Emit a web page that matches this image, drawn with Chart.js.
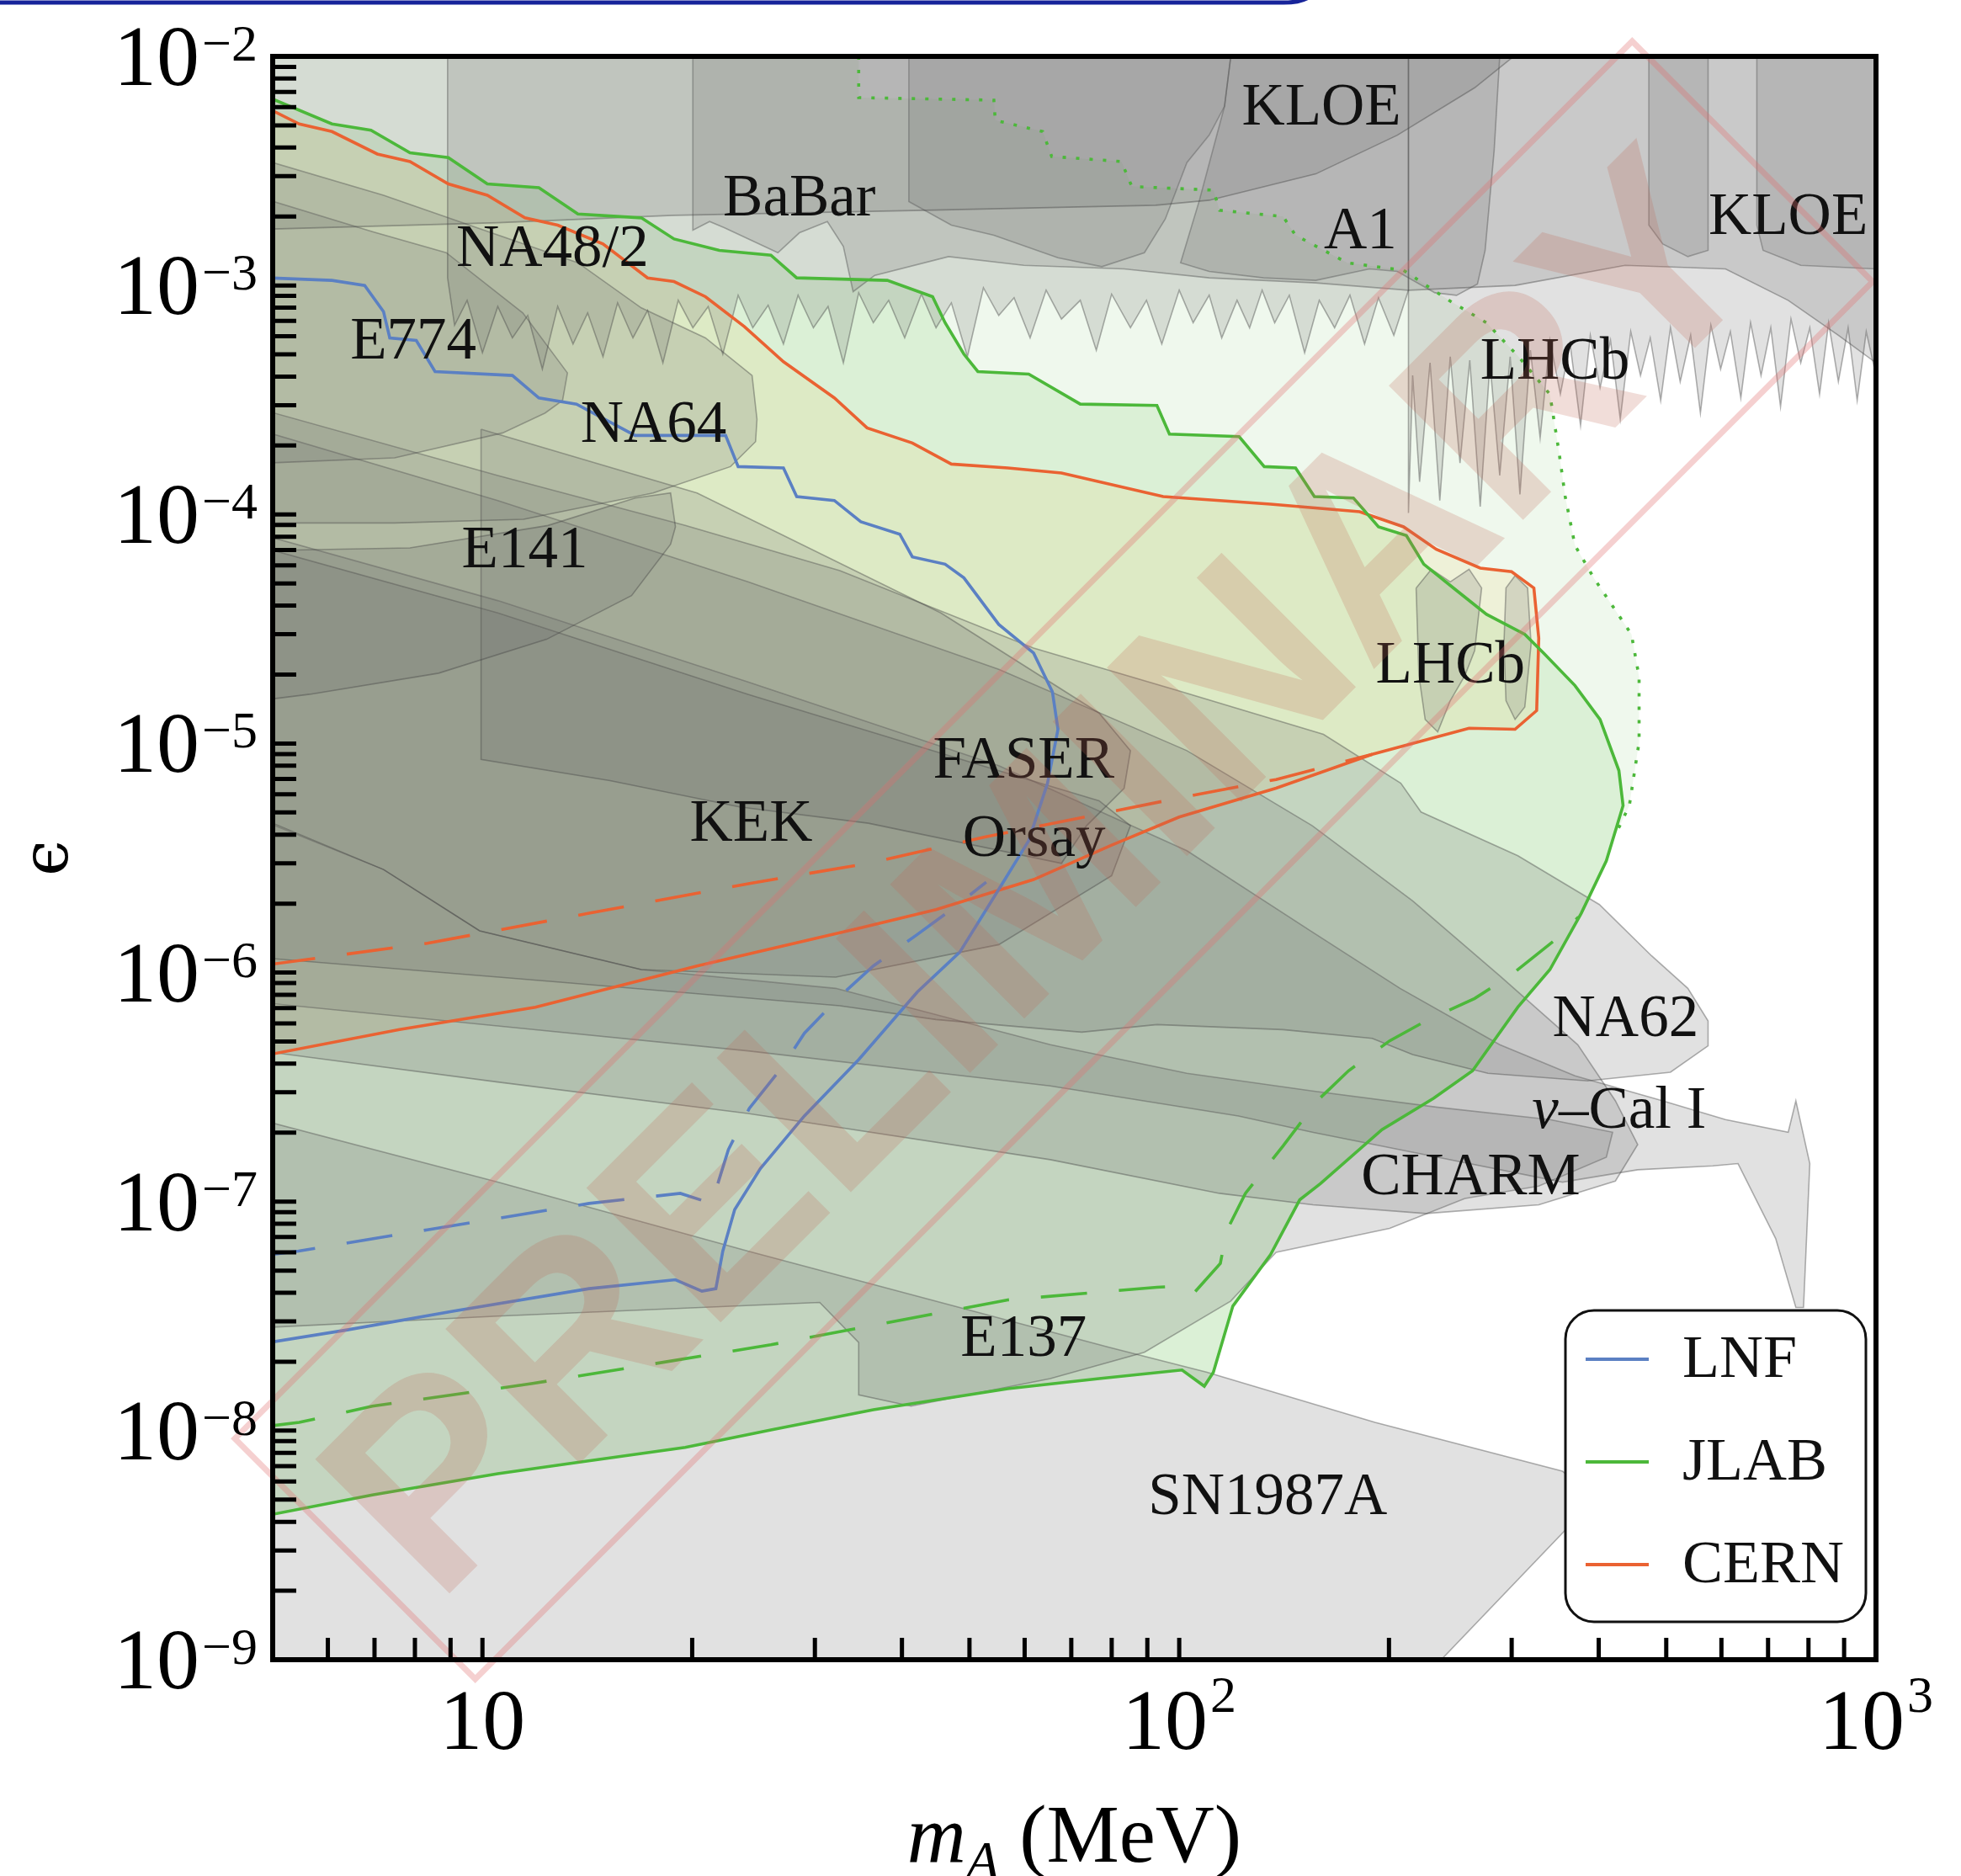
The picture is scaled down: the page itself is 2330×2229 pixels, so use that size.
<!DOCTYPE html>
<html>
<head>
<meta charset="utf-8">
<title>Dark photon reach</title>
<script src="https://cdn.jsdelivr.net/npm/chart.js@4.4.1/dist/chart.umd.min.js"></script>
<style>
  html, body { margin: 0; padding: 0; background: #fff; }
  #wrap { position: relative; width: 2330px; height: 2229px; }
</style>
</head>
<body>
<div id="wrap"><canvas id="plot"></canvas></div>
<script>

// projected reach (coloured curves)
const lnfSolid = [[0.694,-2.967],[0.784,-2.978],[0.831,-3.000],[0.858,-3.114],[0.867,-3.229],[0.905,-3.240],[0.932,-3.376],[1.043,-3.393],[1.081,-3.491],[1.135,-3.518],[1.219,-3.655],[1.349,-3.655],[1.367,-3.791],[1.432,-3.797],[1.451,-3.922],[1.505,-3.939],[1.543,-4.032],[1.599,-4.086],[1.617,-4.185],[1.664,-4.217],[1.691,-4.277],[1.741,-4.480],[1.791,-4.605],[1.818,-4.774],[1.826,-4.938],[1.811,-5.173],[1.784,-5.424],[1.741,-5.637],[1.685,-5.911],[1.624,-6.085],[1.540,-6.380],[1.462,-6.626],[1.399,-6.855],[1.362,-7.035],[1.345,-7.216],[1.335,-7.380],[1.315,-7.391],[1.277,-7.341],[1.153,-7.380],[0.959,-7.478],[0.806,-7.560],[0.694,-7.615]];
const lnfDashed = [[0.694,-7.232],[0.736,-7.216],[0.921,-7.123],[1.153,-7.008],[1.284,-6.964],[1.329,-7.008],[1.353,-6.773],[1.383,-6.593],[1.430,-6.413],[1.462,-6.265],[1.514,-6.101],[1.561,-5.971],[1.624,-5.834],[1.673,-5.725],[1.723,-5.605]];

const jlabSolid = [[0.694,-2.180],[0.784,-2.295],[0.840,-2.322],[0.896,-2.421],[0.951,-2.442],[1.007,-2.557],[1.081,-2.573],[1.137,-2.688],[1.228,-2.705],[1.275,-2.797],[1.340,-2.847],[1.414,-2.868],[1.451,-2.967],[1.581,-2.978],[1.646,-3.049],[1.664,-3.163],[1.691,-3.300],[1.711,-3.376],[1.784,-3.387],[1.858,-3.518],[1.968,-3.524],[1.986,-3.649],[2.086,-3.660],[2.122,-3.791],[2.167,-3.797],[2.194,-3.922],[2.250,-3.928],[2.286,-4.054],[2.326,-4.092],[2.351,-4.217],[2.396,-4.327],[2.441,-4.436],[2.496,-4.523],[2.523,-4.605],[2.568,-4.747],[2.604,-4.895],[2.631,-5.118],[2.637,-5.271],[2.613,-5.512],[2.577,-5.741],[2.532,-5.987],[2.486,-6.151],[2.421,-6.429],[2.365,-6.549],[2.291,-6.686],[2.203,-6.921],[2.173,-6.992],[2.131,-7.232],[2.077,-7.456],[2.049,-7.745],[2.036,-7.806],[2.004,-7.735],[1.885,-7.773],[1.754,-7.817],[1.561,-7.909],[1.414,-7.997],[1.291,-8.073],[1.135,-8.139],[1.022,-8.188],[0.842,-8.281],[0.694,-8.368]];
const jlabDashed = [[0.694,-7.980],[0.737,-7.964],[0.842,-7.893],[1.070,-7.795],[1.414,-7.625],[1.754,-7.429],[1.968,-7.374],[2.002,-7.369],[2.022,-7.396],[2.059,-7.270],[2.068,-7.128],[2.095,-6.964],[2.149,-6.757],[2.198,-6.560],[2.243,-6.429],[2.302,-6.298],[2.354,-6.211],[2.424,-6.113],[2.477,-6.009],[2.540,-5.856],[2.573,-5.757]];
const jlabDotted = [[1.540,-2.000],[1.540,-2.180],[1.734,-2.191],[1.736,-2.279],[1.804,-2.328],[1.817,-2.437],[1.917,-2.459],[1.932,-2.568],[2.049,-2.584],[2.058,-2.672],[2.149,-2.699],[2.167,-2.781],[2.241,-2.901],[2.322,-2.934],[2.387,-3.065],[2.441,-3.163],[2.487,-3.311],[2.532,-3.475],[2.545,-3.726],[2.554,-3.922],[2.568,-4.135],[2.595,-4.277],[2.649,-4.523],[2.660,-4.709],[2.660,-4.993],[2.646,-5.271],[2.628,-5.386]];

const cernSolid = [[0.694,-2.229],[0.737,-2.295],[0.784,-2.328],[0.849,-2.426],[0.896,-2.459],[0.951,-2.557],[1.007,-2.606],[1.061,-2.705],[1.108,-2.737],[1.173,-2.819],[1.237,-2.967],[1.275,-2.983],[1.320,-3.049],[1.376,-3.180],[1.432,-3.333],[1.505,-3.491],[1.552,-3.622],[1.617,-3.688],[1.673,-3.780],[1.754,-3.797],[1.831,-3.819],[1.977,-3.922],[2.131,-3.955],[2.259,-3.988],[2.322,-4.054],[2.369,-4.152],[2.432,-4.234],[2.477,-4.250],[2.509,-4.321],[2.516,-4.540],[2.513,-4.856],[2.482,-4.938],[2.416,-4.933],[2.277,-5.047],[2.139,-5.195],[2.000,-5.321],[1.901,-5.446],[1.791,-5.594],[1.651,-5.725],[1.540,-5.807],[1.308,-5.971],[1.076,-6.151],[0.881,-6.249],[0.694,-6.358]];
const cernDashed = [[0.694,-5.965],[0.921,-5.872],[1.153,-5.741],[1.385,-5.610],[1.554,-5.523],[1.721,-5.408],[1.998,-5.239],[2.139,-5.157],[2.277,-5.047]];

// existing bounds (grey regions)
const topBand = [[0.694,-2.000],[2.480,-2.000],[2.424,-2.137],[2.313,-2.344],[2.196,-2.513],[2.043,-2.628],[1.966,-2.650],[1.633,-2.672],[1.273,-2.694],[1.022,-2.726],[0.694,-2.754]];
const na48 = [[0.950,-2.000],[2.329,-2.000],[2.329,-3.021],[2.308,-3.218],[2.286,-3.054],[2.266,-3.256],[2.245,-3.043],[2.223,-3.185],[2.201,-3.065],[2.180,-3.294],[2.158,-3.043],[2.137,-3.163],[2.119,-3.021],[2.101,-3.185],[2.083,-3.065],[2.061,-3.229],[2.043,-3.043],[2.020,-3.163],[2.000,-3.021],[1.975,-3.256],[1.953,-3.065],[1.930,-3.185],[1.903,-3.038],[1.881,-3.283],[1.858,-3.065],[1.831,-3.147],[1.809,-3.021],[1.786,-3.229],[1.763,-3.054],[1.741,-3.131],[1.719,-3.010],[1.696,-3.311],[1.673,-3.076],[1.651,-3.185],[1.630,-3.038],[1.606,-3.229],[1.583,-3.065],[1.561,-3.163],[1.540,-3.032],[1.518,-3.338],[1.496,-3.092],[1.475,-3.185],[1.453,-3.043],[1.432,-3.256],[1.410,-3.087],[1.388,-3.185],[1.367,-3.043],[1.345,-3.300],[1.324,-3.092],[1.302,-3.185],[1.281,-3.065],[1.259,-3.338],[1.237,-3.109],[1.216,-3.229],[1.194,-3.076],[1.173,-3.311],[1.151,-3.120],[1.130,-3.256],[1.108,-3.092],[1.086,-3.365],[1.065,-3.131],[1.043,-3.229],[1.022,-3.092],[1.000,-3.294],[0.978,-3.065],[0.960,-3.174],[0.950,-2.967]];
const babar = [[1.302,-2.000],[3.000,-2.000],[3.000,-3.338],[2.946,-3.218],[2.874,-3.065],[2.784,-2.928],[2.640,-2.912],[2.482,-3.000],[2.329,-3.021],[2.196,-2.989],[2.043,-2.967],[1.921,-2.928],[1.777,-2.912],[1.669,-2.874],[1.563,-2.956],[1.532,-3.027],[1.518,-2.830],[1.495,-2.721],[1.455,-2.770],[1.424,-2.857],[1.347,-2.748],[1.326,-2.721],[1.302,-2.759]];
const kloeLow = [[1.612,-2.000],[2.074,-2.000],[2.065,-2.218],[2.043,-2.344],[2.011,-2.464],[1.980,-2.710],[1.950,-2.857],[1.889,-2.918],[1.826,-2.879],[1.734,-2.781],[1.673,-2.737],[1.612,-2.634]];
const a1 = [[2.074,-2.000],[2.460,-2.000],[2.452,-2.410],[2.439,-2.847],[2.428,-2.994],[2.398,-3.043],[2.367,-3.032],[2.313,-2.939],[2.273,-2.928],[2.196,-2.978],[2.121,-2.967],[2.043,-2.939],[2.002,-2.901],[2.029,-2.628],[2.065,-2.218]];
const lhcbTop = [[2.329,-2.000],[3.000,-2.000],[3.000,-3.393],[2.986,-3.202],[2.973,-3.502],[2.960,-3.185],[2.946,-3.420],[2.932,-3.163],[2.919,-3.475],[2.905,-3.185],[2.892,-3.338],[2.878,-3.147],[2.863,-3.529],[2.849,-3.185],[2.835,-3.393],[2.820,-3.163],[2.806,-3.491],[2.791,-3.202],[2.777,-3.365],[2.763,-3.174],[2.748,-3.557],[2.734,-3.218],[2.719,-3.420],[2.705,-3.185],[2.691,-3.502],[2.676,-3.229],[2.662,-3.393],[2.648,-3.202],[2.633,-3.584],[2.619,-3.240],[2.604,-3.447],[2.590,-3.218],[2.576,-3.611],[2.561,-3.256],[2.547,-3.475],[2.532,-3.240],[2.518,-3.666],[2.504,-3.283],[2.489,-3.912],[2.475,-3.311],[2.460,-3.830],[2.446,-3.338],[2.432,-3.966],[2.417,-3.327],[2.403,-3.775],[2.389,-3.311],[2.374,-3.939],[2.360,-3.338],[2.345,-3.857],[2.335,-3.393],[2.329,-3.993]];
const kloeHighA = [[2.674,-2.000],[2.759,-2.000],[2.759,-2.847],[2.730,-2.874],[2.694,-2.819],[2.674,-2.737]];
const kloeHighB = [[2.829,-2.000],[3.000,-2.000],[3.000,-2.928],[2.892,-2.912],[2.838,-2.847],[2.829,-2.737]];
const lhcbMidA = [[2.340,-4.321],[2.362,-4.239],[2.389,-4.294],[2.416,-4.239],[2.434,-4.321],[2.424,-4.594],[2.410,-4.703],[2.389,-4.813],[2.371,-4.949],[2.353,-4.895],[2.344,-4.703]];
const lhcbMidB = [[2.482,-4.267],[2.500,-4.321],[2.505,-4.567],[2.496,-4.840],[2.482,-4.895],[2.469,-4.813],[2.466,-4.567],[2.469,-4.321]];
const na64 = [[0.694,-2.459],[0.858,-2.606],[1.137,-2.901],[1.228,-3.098],[1.320,-3.229],[1.387,-3.393],[1.394,-3.584],[1.392,-3.682],[1.356,-3.791],[1.245,-3.906],[1.059,-4.021],[0.874,-4.037],[0.694,-4.037]];
const e774 = [[0.694,-2.628],[0.842,-2.765],[0.948,-2.857],[1.058,-3.120],[1.122,-3.382],[1.115,-3.502],[1.090,-3.557],[1.029,-3.644],[0.874,-3.753],[0.694,-3.775]];
const e141 = [[0.694,-4.157],[0.896,-4.146],[1.094,-4.048],[1.219,-3.928],[1.270,-3.906],[1.277,-4.054],[1.270,-4.130],[1.214,-4.354],[1.092,-4.545],[0.937,-4.693],[0.752,-4.785],[0.694,-4.807]];
const faser = [[0.998,-3.628],[1.308,-3.906],[1.658,-4.430],[1.885,-4.867],[1.930,-5.031],[1.921,-5.195],[1.867,-5.359],[1.831,-5.523],[1.554,-5.348],[1.369,-5.277],[1.183,-5.162],[0.998,-5.069]];
const orsay = [[0.694,-4.152],[1.022,-4.430],[1.381,-4.785],[1.705,-5.086],[1.885,-5.250],[1.930,-5.359],[1.903,-5.577],[1.741,-5.878],[1.507,-6.020],[1.228,-5.987],[0.996,-5.818],[0.858,-5.550],[0.694,-5.342]];
const na62 = [[0.694,-3.551],[1.022,-3.830],[1.291,-4.048],[1.513,-4.245],[1.791,-4.583],[1.998,-4.769],[2.207,-4.960],[2.318,-5.173],[2.347,-5.299],[2.486,-5.490],[2.603,-5.703],[2.678,-5.927],[2.730,-6.069],[2.759,-6.211],[2.759,-6.320],[2.705,-6.435],[2.586,-6.473],[2.443,-6.440],[2.335,-6.358],[2.277,-6.287],[2.149,-6.249],[1.968,-6.227],[1.860,-6.260],[1.651,-6.205],[1.513,-6.145],[1.112,-6.042],[0.694,-5.938]];
const charm = [[0.694,-3.644],[1.022,-3.939],[1.381,-4.294],[1.741,-4.676],[2.011,-5.031],[2.191,-5.359],[2.335,-5.687],[2.460,-6.014],[2.572,-6.315],[2.626,-6.560],[2.658,-6.751],[2.626,-6.910],[2.516,-7.014],[2.354,-7.052],[2.192,-7.014],[2.058,-6.964],[1.815,-6.817],[1.381,-6.615],[1.022,-6.478],[0.694,-6.347]];
const nuCal = [[0.694,-4.097],[1.022,-4.376],[1.381,-4.731],[1.741,-5.097],[2.011,-5.468],[2.191,-5.823],[2.317,-6.069],[2.460,-6.315],[2.568,-6.451],[2.694,-6.560],[2.784,-6.642],[2.874,-6.697],[2.885,-6.560],[2.905,-6.834],[2.896,-7.462],[2.885,-7.462],[2.856,-7.161],[2.802,-6.834],[2.766,-6.844],[2.658,-6.861],[2.550,-6.915],[2.371,-6.806],[2.191,-6.697],[2.085,-6.626],[1.815,-6.495],[1.381,-6.342],[1.022,-6.233],[0.694,-6.134]];
const e137 = [[0.694,-7.549],[1.022,-7.500],[1.484,-7.440],[1.540,-7.615],[1.540,-7.844],[1.615,-7.893],[1.815,-7.773],[1.950,-7.658],[2.074,-7.434],[2.139,-7.221],[2.302,-7.117],[2.410,-6.986],[2.516,-6.932],[2.613,-6.806],[2.622,-6.697],[2.532,-6.642],[2.371,-6.588],[2.191,-6.517],[2.011,-6.440],[1.815,-6.315],[1.507,-6.069],[1.228,-5.987],[0.996,-5.818],[0.858,-5.550],[0.694,-5.348]];
const sn1987a = [[0.694,-6.653],[1.022,-6.915],[1.381,-7.216],[1.899,-7.636],[2.040,-7.745],[2.281,-7.964],[2.550,-8.177],[2.595,-8.281],[2.568,-8.390],[2.376,-9.000],[0.694,-9.000]];

// region names: [text, mA (MeV), epsilon]
const regionLabels = [
  ['KLOE', 160, 5.9e-3], ['BaBar', 28.5, 2.36e-3], ['NA48/2', 12.6, 1.42e-3], ['A1', 182, 1.7e-3],
  ['KLOE', 748, 1.97e-3], ['E774', 7.96, 5.6e-4], ['NA64', 17.6, 2.42e-4], ['LHCb', 346, 4.6e-4],
  ['E141', 11.5, 6.9e-5], ['LHCb', 245, 2.16e-5], ['FASER', 59.8, 8.3e-6], ['KEK', 24.3, 4.4e-6],
  ['Orsay', 61.9, 3.77e-6], ['NA62', 437, 6.2e-7], ['\u03bd\u2013Cal I', 428, 2.46e-7],
  ['CHARM', 262, 1.26e-7], ['E137', 59.8, 2.49e-8], ['SN1987A', 134, 5.05e-9]
];

const xMinorTicks = [6, 7, 8, 9, 10, 20, 30, 40, 50, 60, 70, 80, 90, 100, 200, 300, 400, 500, 600, 700, 800, 900];
const xTickPowers = [1, 2, 3];
const yTickPowers = [-9, -8, -7, -6, -5, -4, -3, -2];
const legendItems = ['LNF', 'JLAB', 'CERN'];

const BLUE = '#5b80c3';
const GREEN = '#4cb83a';
const ORANGE = '#ea6232';
const GREY_FILL = 'rgba(106,106,106,0.20)';
const GREY_EDGE = 'rgba(70,70,70,0.42)';
const SERIF = '"Liberation Serif", "Times New Roman", serif';

const toXY = pts => pts.map(([lm, le]) => ({ x: Math.pow(10, lm), y: Math.pow(10, le) }));

// grey bounds sit above the coloured fills, the coloured lines above everything
function greyRegion(pts) {
  return {
    data: toXY(pts.concat([pts[0]])), showLine: true, fill: 'shape',
    backgroundColor: GREY_FILL, borderColor: GREY_EDGE, borderWidth: 1.6,
    pointRadius: 0, order: 2
  };
}
function fillOnly(pts, color) {
  return {
    data: toXY(pts), showLine: true, fill: 'shape', backgroundColor: color,
    borderColor: 'rgba(0,0,0,0)', borderWidth: 0.1, pointRadius: 0, order: 3
  };
}
function curve(pts, color, dash) {
  return {
    data: toXY(pts), showLine: true, fill: false, borderColor: color,
    borderWidth: 3.6, borderDash: dash || [], pointRadius: 0, order: 0
  };
}

// dotted JLAB area: top edge, dotted contour, then back along the solid contour
const dottedArea = [[0.694, -2.0]].concat(jlabDotted, jlabSolid.slice(jlabSolid.findIndex(p => p[1] <= -5.5)));

const datasets = [
  curve(lnfSolid, BLUE), curve(lnfDashed, BLUE, [55, 38]),
  curve(jlabSolid, GREEN), curve(jlabDashed, GREEN, [55, 38]), curve(jlabDotted, GREEN, [4, 12]),
  curve(cernSolid, ORANGE), curve(cernDashed, ORANGE, [55, 38]),
  fillOnly(cernSolid, 'rgba(232,200,100,0.15)'),
  fillOnly(jlabSolid, 'rgba(100,190,80,0.14)'),
  fillOnly(dottedArea, 'rgba(100,190,80,0.10)')
].concat([topBand, na48, babar, kloeLow, a1, lhcbTop, kloeHighA, kloeHighB, lhcbMidA, lhcbMidB,
  na64, e774, e141, faser, orsay, na62, charm, nuCal, e137, sn1987a].map(greyRegion));

function drawPower(ctx, exp, x, baseY, raise, align) {
  const main = '102px ' + SERIF, small = '62px ' + SERIF;
  ctx.font = main;
  const w1 = ctx.measureText('10').width;
  const sup = exp === 1 ? '' : (exp < 0 ? '\u2212' + (-exp) : String(exp));
  ctx.font = small;
  const w2 = sup ? ctx.measureText(sup).width + 3 : 0;
  const x0 = align === 'right' ? x - w1 - w2 : x - (w1 + w2) / 2;
  ctx.textAlign = 'left';
  ctx.textBaseline = 'alphabetic';
  ctx.font = main;
  ctx.fillText('10', x0, baseY);
  if (sup) {
    ctx.font = small;
    ctx.fillText(sup, x0 + w1 + 3, baseY - raise);
  }
}

const decorations = {
  id: 'decorations',
  afterDatasetsDraw(chart) {
    const { ctx, scales: { x, y } } = chart;
    ctx.save();
    ctx.fillStyle = '#111';
    ctx.textBaseline = 'middle';
    regionLabels.forEach(([text, m, e]) => {
      const px = x.getPixelForValue(m), py = y.getPixelForValue(e);
      if (text.charAt(0) === '\u03bd') {
        ctx.font = 'italic 71px ' + SERIF;
        const wn = ctx.measureText('\u03bd').width;
        ctx.font = '71px ' + SERIF;
        const wr = ctx.measureText(text.slice(1)).width;
        const x0 = px - (wn + wr) / 2;
        ctx.textAlign = 'left';
        ctx.font = 'italic 71px ' + SERIF;
        ctx.fillText('\u03bd', x0, py);
        ctx.font = '71px ' + SERIF;
        ctx.fillText(text.slice(1), x0 + wn, py);
      } else {
        ctx.textAlign = 'center';
        ctx.font = '71px ' + SERIF;
        ctx.fillText(text, px, py);
      }
    });
    ctx.restore();
  },
  afterDraw(chart) {
    const { ctx, chartArea: a, scales: { x, y } } = chart;
    ctx.save();

    // watermark
    ctx.save();
    ctx.translate(1252, 1022);
    ctx.rotate(-Math.PI / 4);
    ctx.strokeStyle = 'rgba(225,110,110,0.32)';
    ctx.lineWidth = 7;
    ctx.strokeRect(-1174, -202, 2348, 404);
    ctx.fillStyle = 'rgba(190,100,80,0.22)';
    ctx.font = 'bold 328px "Liberation Sans", Arial, sans-serif';
    ctx.textAlign = 'center';
    ctx.textBaseline = 'middle';
    ctx.fillText('PRELIMINARY', -22, 18);
    ctx.restore();

    // legend
    const lx = 1860, ly = 1557, lw = 357, lh = 370, r = 34;
    ctx.beginPath();
    ctx.moveTo(lx + r, ly);
    ctx.arcTo(lx + lw, ly, lx + lw, ly + lh, r);
    ctx.arcTo(lx + lw, ly + lh, lx, ly + lh, r);
    ctx.arcTo(lx, ly + lh, lx, ly, r);
    ctx.arcTo(lx, ly, lx + lw, ly, r);
    ctx.closePath();
    ctx.fillStyle = '#fff';
    ctx.fill();
    ctx.lineWidth = 3;
    ctx.strokeStyle = '#111';
    ctx.stroke();
    [BLUE, GREEN, ORANGE].forEach((c, i) => {
      const yy = ly + 58 + i * 122;
      ctx.strokeStyle = c;
      ctx.lineWidth = 4;
      ctx.beginPath();
      ctx.moveTo(lx + 24, yy);
      ctx.lineTo(lx + 99, yy);
      ctx.stroke();
      ctx.fillStyle = '#111';
      ctx.font = '72px ' + SERIF;
      ctx.textAlign = 'left';
      ctx.textBaseline = 'middle';
      ctx.fillText(legendItems[i], lx + 139, yy + 2);
    });

    // frame and inward ticks
    ctx.strokeStyle = '#000';
    ctx.lineWidth = 5;
    ctx.lineCap = 'butt';
    ctx.beginPath();
    yTickPowers.forEach(p => {
      for (let k = 1; k <= 9; k++) {
        const v = k * Math.pow(10, p);
        if (v > 1.0001e-2) break;
        const py = y.getPixelForValue(v);
        ctx.moveTo(a.left, py);
        ctx.lineTo(a.left + 28, py);
      }
    });
    xMinorTicks.forEach(v => {
      const px = x.getPixelForValue(v);
      ctx.moveTo(px, a.bottom);
      ctx.lineTo(px, a.bottom - 26);
    });
    ctx.stroke();
    ctx.lineWidth = 6;
    ctx.strokeRect(a.left, a.top, a.right - a.left, a.bottom - a.top);

    // tick labels
    ctx.fillStyle = '#000';
    yTickPowers.forEach(p => {
      const py = y.getPixelForValue(Math.pow(10, p));
      drawPower(ctx, p, a.left - 18, py + 34, 29, 'right');
    });
    xTickPowers.forEach(p => {
      const px = x.getPixelForValue(Math.pow(10, p));
      drawPower(ctx, p, px, a.bottom + 106, 44, 'center');
    });

    // axis titles
    const base = 2212;
    ctx.textAlign = 'left';
    ctx.textBaseline = 'alphabetic';
    ctx.font = 'italic 97px ' + SERIF;
    const wm = ctx.measureText('m').width;
    ctx.font = 'italic 64px ' + SERIF;
    const wa = ctx.measureText('A').width;
    ctx.font = '97px ' + SERIF;
    const wu = ctx.measureText(' (MeV)').width;
    let tx = (a.left + a.right) / 2 - (wm + wa + wu) / 2;
    ctx.font = 'italic 97px ' + SERIF;
    ctx.fillText('m', tx, base);
    ctx.font = 'italic 64px ' + SERIF;
    ctx.fillText('A', tx + wm, base + 20);
    ctx.font = '97px ' + SERIF;
    ctx.fillText(' (MeV)', tx + wm + wa, base);

    ctx.save();
    ctx.translate(60, (a.top + a.bottom) / 2);
    ctx.rotate(-Math.PI / 2);
    ctx.textAlign = 'center';
    ctx.textBaseline = 'middle';
    ctx.font = '76px "DejaVu Serif", serif';
    ctx.fillText('\u03f5', 0, 0);
    ctx.restore();

    // slide frame remnant along the top edge
    ctx.strokeStyle = '#17249a';
    ctx.lineWidth = 5;
    ctx.beginPath();
    ctx.moveTo(0, 3);
    ctx.lineTo(1525, 3);
    ctx.quadraticCurveTo(1552, 3, 1560, -8);
    ctx.stroke();

    ctx.restore();
  }
};

new Chart(document.getElementById('plot'), {
  type: 'scatter',
  data: { datasets },
  options: {
    responsive: true,
    maintainAspectRatio: false,
    animation: false,
    events: [],
    layout: { padding: { left: 324, top: 67, right: 101, bottom: 257 } },
    elements: { line: { tension: 0 } },
    plugins: { legend: { display: false }, tooltip: { enabled: false } },
    scales: {
      x: { type: 'logarithmic', min: 5, max: 1000, display: false },
      y: { type: 'logarithmic', min: 1e-9, max: 1e-2, display: false }
    }
  },
  plugins: [decorations]
});
</script>
</body>
</html>
